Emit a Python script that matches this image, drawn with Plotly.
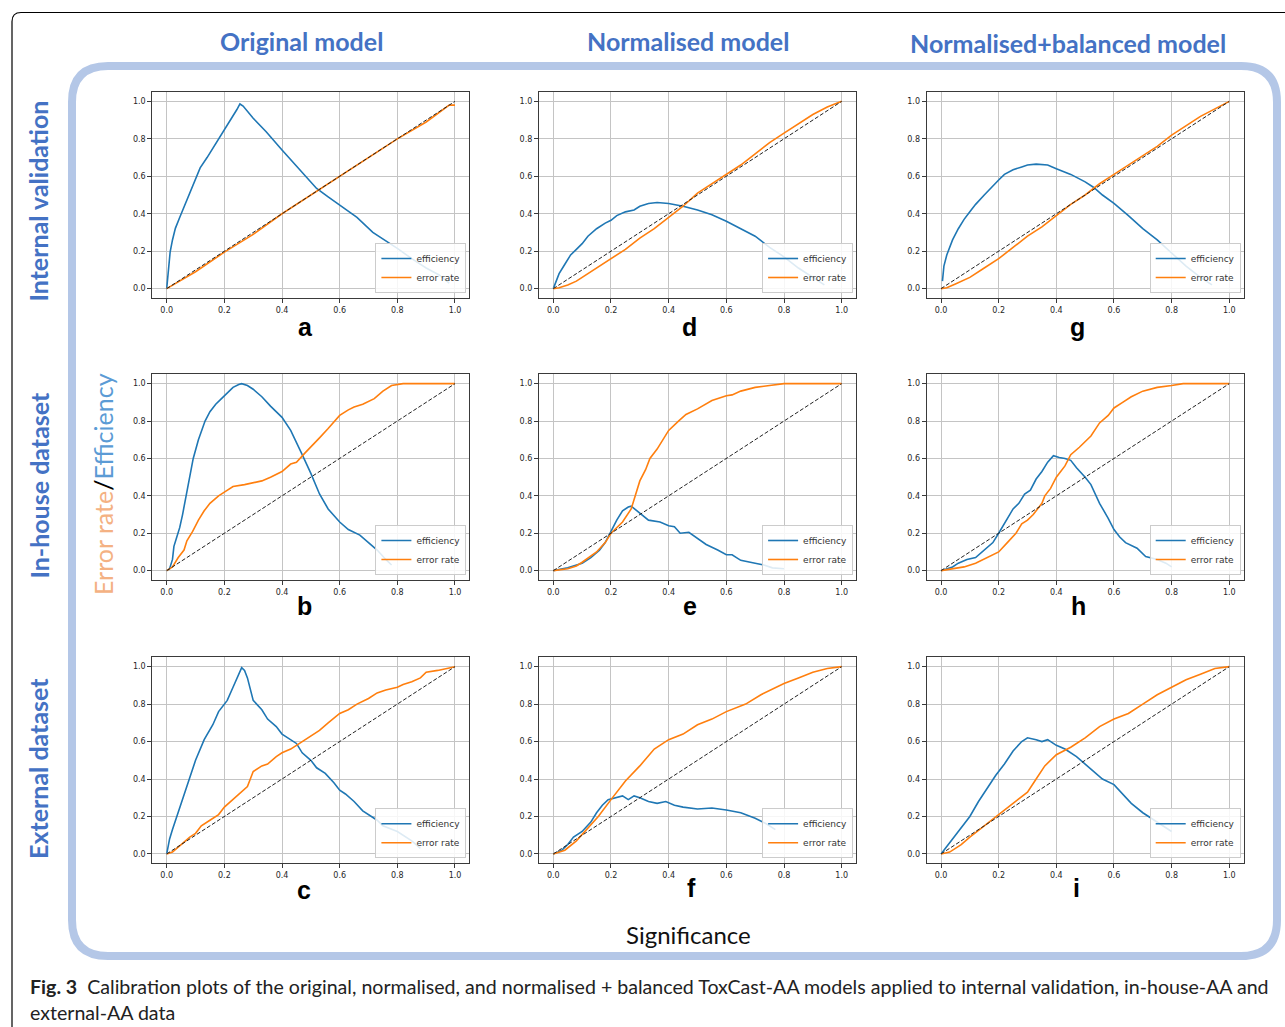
import plotly.graph_objects as go

W, H = 1285, 1027

# ---------------- data (significance vs efficiency / error rate) ----------------
a_eff_x = [0, 0.005, 0.012, 0.02, 0.03, 0.045, 0.058, 0.075, 0.09, 0.105, 0.116, 0.14, 0.173, 0.19, 0.208, 0.225, 0.243, 0.254, 0.265, 0.3, 0.345, 0.4, 0.46, 0.52, 0.56, 0.6, 0.66, 0.715, 0.76, 0.8, 0.85, 0.9, 0.945, 0.98]
a_eff_y = [0, 0.10, 0.197, 0.26, 0.322, 0.38, 0.429, 0.49, 0.55, 0.61, 0.645, 0.70, 0.78, 0.825, 0.865, 0.91, 0.955, 0.986, 0.975, 0.91, 0.838, 0.74, 0.64, 0.535, 0.49, 0.447, 0.38, 0.30, 0.255, 0.215, 0.16, 0.11, 0.073, 0.03]
a_err_x = [0, 0.1, 0.2, 0.3, 0.4, 0.5, 0.6, 0.7, 0.8, 0.9, 0.98, 1.0]
a_err_y = [0, 0.09, 0.195, 0.29, 0.40, 0.50, 0.60, 0.70, 0.80, 0.89, 0.98, 0.98]

d_eff_x = [0, 0.02, 0.04, 0.06, 0.08, 0.1, 0.12, 0.15, 0.18, 0.2, 0.22, 0.25, 0.28, 0.3, 0.33, 0.36, 0.4, 0.45, 0.5, 0.55, 0.6, 0.65, 0.7, 0.75, 0.8, 0.85, 0.9, 0.94]
d_eff_y = [0, 0.08, 0.13, 0.18, 0.21, 0.24, 0.28, 0.32, 0.35, 0.365, 0.39, 0.41, 0.42, 0.44, 0.455, 0.46, 0.455, 0.44, 0.42, 0.395, 0.36, 0.32, 0.28, 0.22, 0.17, 0.11, 0.06, 0.02]
d_err_x = [0, 0.02, 0.05, 0.08, 0.1, 0.15, 0.2, 0.25, 0.3, 0.35, 0.4, 0.45, 0.5, 0.55, 0.6, 0.65, 0.7, 0.75, 0.8, 0.85, 0.9, 0.95, 1.0]
d_err_y = [0, 0.005, 0.02, 0.04, 0.06, 0.11, 0.16, 0.21, 0.27, 0.32, 0.38, 0.44, 0.51, 0.56, 0.61, 0.66, 0.72, 0.78, 0.83, 0.88, 0.93, 0.97, 1.0]

g_eff_x = [0.005, 0.01, 0.02, 0.04, 0.06, 0.08, 0.1, 0.12, 0.15, 0.18, 0.2, 0.22, 0.25, 0.28, 0.3, 0.33, 0.37, 0.4, 0.45, 0.5, 0.53, 0.56, 0.6, 0.65, 0.7, 0.75, 0.8, 0.85, 0.9, 0.94]
g_eff_y = [0.04, 0.12, 0.18, 0.26, 0.32, 0.37, 0.41, 0.45, 0.50, 0.55, 0.58, 0.61, 0.635, 0.65, 0.66, 0.665, 0.66, 0.64, 0.61, 0.57, 0.54, 0.50, 0.455, 0.39, 0.32, 0.26, 0.19, 0.12, 0.06, 0.02]
g_err_x = [0, 0.02, 0.05, 0.1, 0.15, 0.2, 0.25, 0.3, 0.35, 0.4, 0.45, 0.5, 0.55, 0.6, 0.65, 0.7, 0.75, 0.8, 0.85, 0.9, 0.95, 1.0]
g_err_y = [0, 0.005, 0.025, 0.06, 0.11, 0.16, 0.22, 0.28, 0.33, 0.39, 0.45, 0.50, 0.56, 0.61, 0.66, 0.71, 0.76, 0.82, 0.87, 0.92, 0.96, 1.0]

b_eff_x = [0, 0.01, 0.02, 0.025, 0.035, 0.045, 0.055, 0.07, 0.08, 0.092, 0.11, 0.133, 0.15, 0.17, 0.19, 0.21, 0.23, 0.25, 0.26, 0.28, 0.3, 0.33, 0.36, 0.4, 0.43, 0.47, 0.5, 0.53, 0.56, 0.6, 0.63, 0.67, 0.7, 0.73, 0.76, 0.78]
b_eff_y = [0, 0.01, 0.06, 0.13, 0.18, 0.23, 0.30, 0.42, 0.50, 0.60, 0.70, 0.80, 0.85, 0.89, 0.92, 0.95, 0.98, 0.995, 1.0, 0.99, 0.97, 0.93, 0.88, 0.82, 0.75, 0.62, 0.52, 0.41, 0.33, 0.26, 0.22, 0.19, 0.15, 0.11, 0.06, 0.03]
b_err_x = [0, 0.02, 0.04, 0.06, 0.07, 0.09, 0.11, 0.13, 0.15, 0.18, 0.2, 0.23, 0.27, 0.3, 0.33, 0.36, 0.4, 0.43, 0.45, 0.48, 0.5, 0.53, 0.56, 0.6, 0.63, 0.65, 0.68, 0.72, 0.75, 0.78, 0.82, 1.0]
b_err_y = [0, 0.02, 0.07, 0.11, 0.16, 0.21, 0.27, 0.32, 0.36, 0.40, 0.42, 0.45, 0.46, 0.47, 0.48, 0.50, 0.53, 0.57, 0.58, 0.63, 0.66, 0.71, 0.76, 0.83, 0.86, 0.875, 0.89, 0.92, 0.96, 0.99, 1.0, 1.0]

e_eff_x = [0, 0.05, 0.1, 0.13, 0.16, 0.18, 0.2, 0.22, 0.24, 0.26, 0.27, 0.3, 0.33, 0.37, 0.4, 0.42, 0.44, 0.47, 0.5, 0.53, 0.57, 0.6, 0.62, 0.65, 0.7, 0.73, 0.76, 0.8]
e_eff_y = [0, 0.015, 0.04, 0.07, 0.11, 0.15, 0.21, 0.27, 0.32, 0.34, 0.345, 0.31, 0.27, 0.26, 0.24, 0.235, 0.20, 0.205, 0.17, 0.14, 0.11, 0.085, 0.085, 0.055, 0.04, 0.03, 0.015, 0.01]
e_err_x = [0, 0.05, 0.08, 0.1, 0.15, 0.18, 0.2, 0.24, 0.27, 0.283, 0.3, 0.32, 0.335, 0.36, 0.38, 0.4, 0.434, 0.46, 0.5, 0.55, 0.6, 0.62, 0.65, 0.7, 0.75, 0.8, 1.0]
e_err_y = [0, 0.01, 0.025, 0.045, 0.10, 0.15, 0.20, 0.26, 0.33, 0.40, 0.48, 0.54, 0.60, 0.65, 0.70, 0.75, 0.80, 0.835, 0.865, 0.91, 0.935, 0.94, 0.96, 0.98, 0.99, 1.0, 1.0]

h_eff_x = [0, 0.02, 0.04, 0.06, 0.09, 0.12, 0.15, 0.18, 0.2, 0.22, 0.25, 0.27, 0.29, 0.31, 0.33, 0.35, 0.37, 0.39, 0.41, 0.43, 0.45, 0.47, 0.5, 0.52, 0.55, 0.58, 0.6, 0.62, 0.64, 0.68, 0.71, 0.75, 0.78, 0.8]
h_eff_y = [0, 0.01, 0.02, 0.04, 0.06, 0.07, 0.11, 0.15, 0.20, 0.25, 0.33, 0.36, 0.41, 0.43, 0.49, 0.53, 0.58, 0.615, 0.605, 0.60, 0.59, 0.55, 0.50, 0.46, 0.36, 0.28, 0.22, 0.18, 0.15, 0.12, 0.075, 0.06, 0.04, 0.02]
h_err_x = [0, 0.04, 0.08, 0.12, 0.16, 0.2, 0.23, 0.26, 0.28, 0.3, 0.32, 0.35, 0.36, 0.38, 0.4, 0.43, 0.45, 0.48, 0.52, 0.55, 0.58, 0.6, 0.63, 0.66, 0.7, 0.75, 0.8, 0.84, 1.0]
h_err_y = [0, 0.01, 0.02, 0.04, 0.07, 0.10, 0.15, 0.20, 0.25, 0.27, 0.30, 0.36, 0.40, 0.44, 0.50, 0.56, 0.62, 0.66, 0.72, 0.79, 0.83, 0.87, 0.90, 0.93, 0.96, 0.98, 0.99, 1.0, 1.0]

c_eff_x = [0, 0.01, 0.02, 0.04, 0.06, 0.08, 0.1, 0.13, 0.16, 0.18, 0.21, 0.23, 0.25, 0.26, 0.27, 0.28, 0.3, 0.33, 0.35, 0.38, 0.4, 0.43, 0.45, 0.47, 0.5, 0.52, 0.55, 0.58, 0.6, 0.62, 0.65, 0.68, 0.7, 0.73, 0.75, 0.8, 0.85, 0.88]
c_eff_y = [0, 0.08, 0.13, 0.22, 0.32, 0.41, 0.50, 0.61, 0.69, 0.76, 0.82, 0.89, 0.96, 0.995, 0.98, 0.94, 0.82, 0.77, 0.72, 0.68, 0.64, 0.61, 0.59, 0.54, 0.50, 0.46, 0.43, 0.38, 0.34, 0.32, 0.28, 0.23, 0.21, 0.18, 0.15, 0.12, 0.07, 0.03]
c_err_x = [0, 0.02, 0.05, 0.08, 0.1, 0.12, 0.15, 0.18, 0.2, 0.23, 0.26, 0.28, 0.3, 0.33, 0.35, 0.38, 0.4, 0.43, 0.45, 0.48, 0.5, 0.53, 0.56, 0.6, 0.63, 0.66, 0.7, 0.73, 0.76, 0.8, 0.82, 0.85, 0.88, 0.9, 0.94, 0.97, 1.0]
c_err_y = [0, 0.01, 0.05, 0.09, 0.11, 0.15, 0.18, 0.21, 0.25, 0.29, 0.33, 0.36, 0.44, 0.47, 0.48, 0.52, 0.54, 0.56, 0.58, 0.61, 0.63, 0.66, 0.70, 0.75, 0.77, 0.80, 0.83, 0.86, 0.875, 0.89, 0.905, 0.92, 0.94, 0.97, 0.98, 0.99, 1.0]

f_eff_x = [0, 0.03, 0.05, 0.07, 0.1, 0.13, 0.15, 0.17, 0.19, 0.22, 0.24, 0.26, 0.28, 0.3, 0.33, 0.36, 0.39, 0.42, 0.45, 0.5, 0.55, 0.6, 0.65, 0.7, 0.74, 0.77]
f_eff_y = [0, 0.02, 0.05, 0.09, 0.12, 0.17, 0.22, 0.26, 0.29, 0.30, 0.31, 0.29, 0.31, 0.30, 0.28, 0.27, 0.28, 0.26, 0.25, 0.24, 0.245, 0.235, 0.22, 0.19, 0.16, 0.13]
f_err_x = [0, 0.04, 0.08, 0.12, 0.156, 0.2, 0.25, 0.3, 0.35, 0.4, 0.45, 0.5, 0.55, 0.6, 0.667, 0.72, 0.8, 0.85, 0.9, 0.95, 1.0]
f_err_y = [0, 0.02, 0.07, 0.14, 0.20, 0.29, 0.39, 0.47, 0.56, 0.61, 0.64, 0.69, 0.72, 0.76, 0.80, 0.85, 0.91, 0.94, 0.97, 0.99, 1.0]

i_eff_x = [0, 0.02, 0.05, 0.08, 0.1, 0.13, 0.16, 0.19, 0.22, 0.25, 0.28, 0.3, 0.33, 0.35, 0.37, 0.4, 0.43, 0.47, 0.5, 0.53, 0.56, 0.6, 0.63, 0.66, 0.7, 0.74, 0.78, 0.8]
i_eff_y = [0, 0.04, 0.10, 0.16, 0.20, 0.28, 0.35, 0.42, 0.48, 0.55, 0.60, 0.62, 0.61, 0.60, 0.61, 0.58, 0.56, 0.52, 0.48, 0.44, 0.40, 0.37, 0.32, 0.27, 0.22, 0.18, 0.14, 0.12]
i_err_x = [0, 0.03, 0.07, 0.1, 0.15, 0.2, 0.25, 0.3, 0.33, 0.36, 0.4, 0.45, 0.5, 0.55, 0.6, 0.65, 0.7, 0.75, 0.8, 0.85, 0.9, 0.95, 1.0]
i_err_y = [0, 0.01, 0.05, 0.09, 0.15, 0.21, 0.27, 0.33, 0.40, 0.47, 0.53, 0.57, 0.62, 0.68, 0.72, 0.75, 0.80, 0.85, 0.89, 0.93, 0.96, 0.99, 1.0]

ideal_x = [0, 1]
ideal_y = [0, 1]

panel_letters = ["a", "d", "g", "b", "e", "h", "c", "f", "i"]
col_titles = ["Original model", "Normalised model", "Normalised+balanced model"]
row_titles = ["Internal validation", "In-house dataset", "External dataset"]
tick_vals = [0, 0.2, 0.4, 0.6, 0.8, 1.0]
tick_text = ["0.0", "0.2", "0.4", "0.6", "0.8", "1.0"]

panels = {
    "a": (a_eff_x, a_eff_y, a_err_x, a_err_y),
    "d": (d_eff_x, d_eff_y, d_err_x, d_err_y),
    "g": (g_eff_x, g_eff_y, g_err_x, g_err_y),
    "b": (b_eff_x, b_eff_y, b_err_x, b_err_y),
    "e": (e_eff_x, e_eff_y, e_err_x, e_err_y),
    "h": (h_eff_x, h_eff_y, h_err_x, h_err_y),
    "c": (c_eff_x, c_eff_y, c_err_x, c_err_y),
    "f": (f_eff_x, f_eff_y, f_err_x, f_err_y),
    "i": (i_eff_x, i_eff_y, i_err_x, i_err_y),
}

# ---------------- layout geometry (pixels) ----------------
col_px = [(152.3, 469.4), (538.9, 856.1), (926.6, 1243.7)]
row_px = [(92.0, 298.0), (374.3, 580.0), (657.3, 863.3)]
letter_px = [[(305, 327), (689, 327), (1077, 327)],
             [(304, 606), (690, 606), (1078, 606)],
             [(304, 890), (691, 888), (1076, 888)]]

def px(x):
    return x / W

def py(y):
    return 1 - y / H

EFF = "#1f77b4"
ERR = "#ff7f0e"
TITLE_BLUE = "#4472C4"
BAND = "#B4C7E7"

fig = go.Figure()
layout = dict(
    width=W, height=H,
    margin=dict(l=0, r=0, t=0, b=0),
    paper_bgcolor="white", plot_bgcolor="white",
    showlegend=True,
    annotations=[], shapes=[],
)

for k, letter in enumerate(panel_letters):
    r, c = divmod(k, 3)
    n = k + 1
    xa = "x" if n == 1 else f"x{n}"
    ya = "y" if n == 1 else f"y{n}"
    lg = "legend" if n == 1 else f"legend{n}"
    ex, ey, rx, ry = panels[letter]
    fig.add_trace(go.Scatter(x=ex, y=ey, mode="lines", name="efficiency",
                             line=dict(color=EFF, width=1.6), xaxis=xa, yaxis=ya,
                             legend=lg, showlegend=True))
    fig.add_trace(go.Scatter(x=rx, y=ry, mode="lines", name="error rate",
                             line=dict(color=ERR, width=1.6), xaxis=xa, yaxis=ya,
                             legend=lg, showlegend=True))
    fig.add_trace(go.Scatter(x=ideal_x, y=ideal_y, mode="lines", name="ideal",
                             line=dict(color="#222222", width=1, dash="4px,2px"),
                             xaxis=xa, yaxis=ya, showlegend=False))
    x0, x1 = col_px[c]
    y0, y1 = row_px[r]
    axis_common = dict(range=[-0.05, 1.05], showgrid=True, gridcolor="#c4c4c4", gridwidth=1,
                       zeroline=False, showline=True, mirror=True, linecolor="#3a3a3a",
                       linewidth=1, ticks="outside", ticklen=4, tickcolor="#3a3a3a",
                       tickvals=tick_vals, ticktext=tick_text,
                       tickfont=dict(family="DejaVu Sans", size=8, color="#262626"),
                       fixedrange=True)
    layout["xaxis" if n == 1 else f"xaxis{n}"] = dict(domain=[px(x0), px(x1)], anchor=ya, **axis_common)
    layout["yaxis" if n == 1 else f"yaxis{n}"] = dict(domain=[py(y1), py(y0)], anchor=xa, **axis_common)
    layout[lg] = dict(x=px(x1 - 3), y=py(y1 - 5), xanchor="right", yanchor="bottom",
                      bgcolor="rgba(255,255,255,0.85)", bordercolor="#cccccc", borderwidth=1,
                      font=dict(family="DejaVu Sans", size=9, color="#333333"),
                      tracegroupgap=0, itemwidth=30)
    lx, ly = letter_px[r][c]
    layout["annotations"].append(dict(text=f"<b>{letter}</b>", x=px(lx), y=py(ly), xref="paper",
                                      yref="paper", showarrow=False, xanchor="center", yanchor="middle",
                                      font=dict(family="Liberation Sans", size=25, color="black")))

# column and row titles
col_cx = [(301.5, 41), (688, 41), (1068, 43)]
for t, (cx, cy) in zip(col_titles, col_cx):
    layout["annotations"].append(dict(text=f"<b>{t}</b>", x=px(cx), y=py(cy), xref="paper", yref="paper",
                                      showarrow=False, xanchor="center", yanchor="middle",
                                      font=dict(family="Lato", size=25, color=TITLE_BLUE)))
row_cy = [201.5, 485.5, 769]
for t, cy in zip(row_titles, row_cy):
    layout["annotations"].append(dict(text=f"<b>{t}</b>", x=px(38), y=py(cy), xref="paper", yref="paper",
                                      showarrow=False, xanchor="center", yanchor="middle", textangle=-90,
                                      font=dict(family="Lato", size=25, color=TITLE_BLUE)))

layout["annotations"].append(dict(
    text="<span style='color:#F4B183'>Error rate</span><span style='color:#000000'>/</span><span style='color:#5B9BD5'>Efficiency</span>",
    x=px(103), y=py(484), xref="paper", yref="paper", showarrow=False, textangle=-90,
    xanchor="center", yanchor="middle", font=dict(family="Lato", size=25)))
layout["annotations"].append(dict(text="Significance", x=px(688), y=py(934), xref="paper", yref="paper",
                                  showarrow=False, xanchor="center", yanchor="middle",
                                  font=dict(family="Lato", size=24, color="#111111")))
layout["annotations"].append(dict(
    text="<b>Fig. 3</b>  Calibration plots of the original, normalised, and normalised + balanced ToxCast-AA models applied to internal validation, in-house-AA and",
    x=px(28), y=py(986), xref="paper", yref="paper", showarrow=False, xanchor="left", yanchor="middle",
    font=dict(family="Lato", size=19.6, color="#222222")))
layout["annotations"].append(dict(
    text="external-AA data", x=px(28), y=py(1012), xref="paper", yref="paper", showarrow=False,
    xanchor="left", yanchor="middle", font=dict(family="Lato", size=19.6, color="#222222")))

# decorative frames
def P(x, y):
    return f"{px(x):.5f},{py(y):.5f}"

bx0, by0, bx1, by1, rad = 72, 66, 1277, 956, 36
band_path = (f"M {P(bx0 + rad, by0)} L {P(bx1 - rad, by0)} Q {P(bx1, by0)} {P(bx1, by0 + rad)} "
             f"L {P(bx1, by1 - rad)} Q {P(bx1, by1)} {P(bx1 - rad, by1)} "
             f"L {P(bx0 + rad, by1)} Q {P(bx0, by1)} {P(bx0, by1 - rad)} "
             f"L {P(bx0, by0 + rad)} Q {P(bx0, by0)} {P(bx0 + rad, by0)} Z")
layout["shapes"].append(dict(type="path", path=band_path, xref="paper", yref="paper",
                             line=dict(color=BAND, width=8), layer="below"))
ox, oy, orad = 12, 12.5, 9
outer_path = (f"M {P(ox, H + 5)} L {P(ox, oy + orad)} Q {P(ox, oy)} {P(ox + orad, oy)} L {P(W + 5, oy)}")
layout["shapes"].append(dict(type="path", path=outer_path, xref="paper", yref="paper",
                             line=dict(color="black", width=1.2), layer="below"))

fig.update_layout(**layout)
fig.write_html("out.html", config={"displayModeBar": False},
               post_script="document.body.style.margin='0px';")
